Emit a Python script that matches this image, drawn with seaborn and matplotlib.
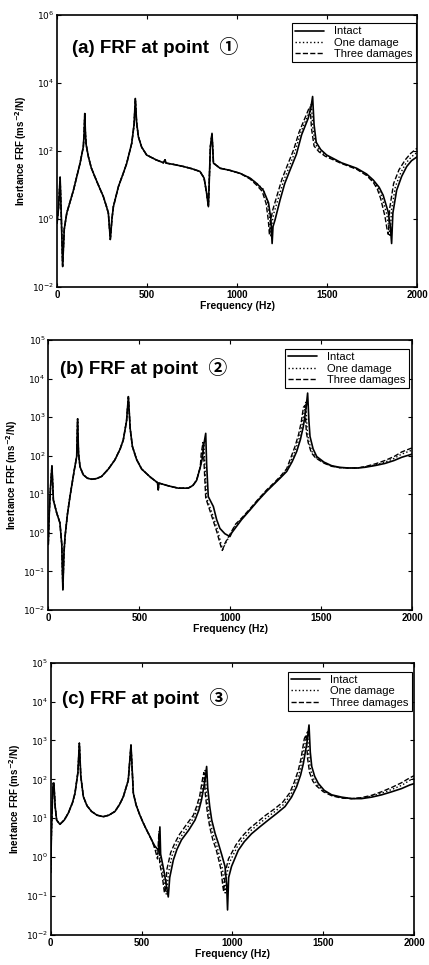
import numpy as np
import pandas as pd
import matplotlib
matplotlib.use("Agg")
import matplotlib.pyplot as plt
import seaborn as sns
from matplotlib.ticker import NullLocator

sns.set_style("ticks")
plt.rcParams['font.family'] = ['Liberation Sans', 'DejaVu Sans', 'Noto Sans CJK JP']
plt.rcParams['text.color'] = 'black'
plt.rcParams['axes.labelcolor'] = 'black'
plt.rcParams['xtick.color'] = 'black'
plt.rcParams['ytick.color'] = 'black'

# ---- panel (a): FRF at point 1 ----
freq_a_low = [0, 8, 17, 24, 31, 40, 54, 91, 128, 146, 150, 154, 158, 162, 174, 190, 211, 235, 257,
              275, 285, 296, 305, 313, 341, 365, 387, 415, 428, 435, 442, 452, 470, 498, 550, 591,
              600, 606, 650, 702, 750, 794, 817, 831, 841, 852, 861, 869, 906, 960, 1017]
frf_a_low = [0.75, 2.0, 17, 1.0, 0.04, 0.5, 1.5, 7, 44, 134, 300, 1260, 300, 150, 68, 32, 17, 8.5,
             4.6, 2.3, 1.5, 0.25, 1.0, 2.3, 9, 20, 43, 170, 600, 3500, 700, 260, 130, 76, 55, 45,
             55, 44, 40, 35, 30, 25, 16, 5.8, 2.3, 134, 330, 44, 31, 27, 22]
freq_a_intact = [1072, 1110, 1146, 1175, 1188, 1195, 1200, 1211, 1239, 1265, 1294, 1330, 1359, 1395,
                 1410, 1420, 1428, 1440, 1465, 1498, 1580, 1665, 1720, 1757, 1790, 1812, 1840, 1852,
                 1859, 1866, 1887, 1915, 1943, 1970, 2000]
frf_a_intact = [16, 11, 7, 3, 1, 0.19, 0.6, 0.93, 3.6, 11, 27, 80, 300, 900,
                1800, 4000, 600, 180, 110, 76, 45, 31, 21, 14, 8.5, 5, 1.6, 0.6,
                0.19, 1.5, 7, 18, 35, 52, 67]
freq_a_one = [1072, 1110, 1146, 1170, 1182, 1188, 1195, 1205, 1232, 1258, 1288, 1322, 1352, 1388,
              1405, 1413, 1421, 1435, 1460, 1495, 1580, 1665, 1720, 1757, 1785, 1805, 1832, 1845,
              1851, 1858, 1880, 1910, 1940, 1970, 2000]
frf_a_one = [16, 11, 7.5, 3, 1, 0.3, 0.8, 1.5, 4.5, 13, 32, 95, 330, 950,
             1500, 2500, 500, 160, 100, 72, 44, 30, 20, 13, 8, 4.5, 1.4, 0.5,
             0.3, 1.8, 9, 23, 45, 68, 90]
freq_a_three = [1072, 1108, 1140, 1162, 1174, 1180, 1187, 1198, 1225, 1250, 1280, 1315, 1345, 1380,
                1398, 1406, 1414, 1428, 1455, 1490, 1580, 1665, 1720, 1757, 1780, 1798, 1822, 1835,
                1841, 1848, 1870, 1900, 1935, 1965, 2000]
frf_a_three = [15, 10, 6.5, 2.8, 0.9, 0.35, 0.9, 1.8, 5.5, 15, 38, 110, 360, 1000,
               1700, 2000, 450, 140, 95, 70, 43, 29, 19, 12, 7.5, 4, 1.2, 0.45,
               0.35, 2, 11, 28, 55, 85, 120]

# ---- panel (b): FRF at point 2 ----
freq_b_low = [0, 5, 12, 20, 28, 46, 64, 74, 80, 86, 92, 105, 119, 143, 156, 161, 166, 174, 192, 215,
              238, 265, 293, 330, 366, 395, 412, 430, 440, 450, 462, 485, 513, 560, 600, 604, 608,
              660, 714, 769, 795, 815, 835]
frf_b_low = [0.5, 3, 15, 55, 7, 3.3, 1.8, 0.5, 0.033, 0.3, 0.8, 3, 8.7, 43, 95, 900, 120, 52, 32,
             26, 24.5, 25.5, 29, 45, 78, 150, 256, 800, 3400, 500, 174, 80, 45, 28, 20, 13, 19.5,
             16.5, 14.4, 14.4, 17, 23, 50]
freq_b_intact = [845, 855, 865, 870, 879, 907, 925, 943, 970, 998, 1008, 1062, 1110, 1154, 1200,
                 1246, 1280, 1310, 1340, 1365, 1385, 1401, 1415, 1425, 1432, 1438, 1455, 1475, 1515,
                 1557, 1600, 1648, 1700, 1740, 1800, 1850, 1900, 1942, 2000]
frf_b_intact = [80, 200, 380, 60, 8.7, 4.8, 2.2, 1.3, 0.95, 0.8, 1.0, 2.2, 4, 7, 12,
                19.5, 28, 39, 70, 129, 260, 560, 1500, 4200, 800, 316, 150, 95, 68,
                55, 50, 48, 48, 50, 56, 63, 75, 91, 110]
freq_b_one = [845, 855, 860, 870, 900, 930, 950, 958, 975, 1000, 1030, 1062, 1110, 1154, 1200,
              1246, 1280, 1310, 1337, 1360, 1380, 1395, 1408, 1415, 1422, 1430, 1448, 1470, 1515,
              1557, 1600, 1648, 1700, 1740, 1800, 1850, 1900, 1942, 2000]
frf_b_one = [120, 200, 60, 8, 3.2, 1.2, 0.5, 0.37, 0.55, 0.9, 1.6, 2.3, 4.1, 7.2, 12.5,
             20, 29, 42, 80, 150, 300, 650, 1500, 2500, 500, 250, 130, 90, 66,
             54, 49, 48, 48, 51, 58, 68, 85, 110, 140]
freq_b_three = [840, 850, 856, 865, 895, 925, 948, 956, 972, 1000, 1030, 1062, 1110, 1154, 1200,
                1246, 1280, 1310, 1333, 1355, 1375, 1390, 1402, 1410, 1418, 1428, 1445, 1468, 1515,
                1557, 1600, 1648, 1700, 1740, 1800, 1850, 1900, 1942, 2000]
frf_b_three = [110, 220, 60, 8, 3, 1.1, 0.45, 0.35, 0.55, 0.95, 1.7, 2.4, 4.3, 7.5, 13,
               21, 31, 46, 90, 170, 350, 750, 1800, 2000, 400, 220, 120, 88, 64,
               53, 49, 48, 48, 52, 62, 75, 95, 125, 160]

# ---- panel (c): FRF at point 3 ----
freq_c_low = [0, 5, 10, 14, 18, 25, 33, 51, 75, 97, 120, 134, 150, 158, 166, 180, 200, 225, 255, 290,
              320, 354, 380, 400, 427, 442, 448, 455, 470, 491, 510, 528, 545, 560]
frf_c_low = [0.4, 5, 30, 79, 80, 20, 9, 7, 9, 13.5, 25, 44, 150, 850, 120, 36, 21, 15, 12, 11,
             12, 15, 23, 36, 95, 760, 200, 44, 22, 12, 7.5, 5, 3.5, 2.5]
freq_c_intact = [574, 595, 601, 605, 625, 640, 647, 655, 675, 695, 720, 760, 794, 815, 830, 850, 858,
                 864, 875, 886, 905, 922, 940, 959, 968, 973, 979, 995, 1032, 1065, 1105, 1150, 1197,
                 1245, 1289, 1325, 1353, 1375, 1390, 1410, 1421, 1428, 1436, 1452, 1472, 1505, 1546,
                 1600, 1656, 1710, 1766, 1820, 1876, 1930, 1976, 2000]
frf_c_intact = [1.9, 1.5, 6, 1.2, 0.4, 0.15, 0.095, 0.3, 0.85, 1.6, 2.8, 5, 9, 16, 30, 100, 215,
                60, 20, 9, 4, 2.3, 1.2, 0.58, 0.2, 0.044, 0.3, 0.58, 1.5, 2.5, 4, 6, 9,
                13.5, 20, 35, 65, 130, 256, 900, 2500, 500, 215, 120, 79, 52, 40,
                35, 32, 32, 35, 40, 48, 58, 72, 78]
freq_c_one = [574, 590, 598, 603, 620, 632, 638, 648, 668, 690, 715, 755, 790, 810, 826, 845, 850,
              856, 868, 880, 898, 915, 932, 945, 955, 960, 968, 985, 1025, 1060, 1100, 1145, 1190,
              1238, 1283, 1320, 1347, 1368, 1383, 1402, 1413, 1420, 1430, 1448, 1468, 1503, 1546,
              1600, 1656, 1710, 1766, 1820, 1876, 1930, 1976, 2000]
frf_c_one = [1.7, 1.1, 5, 0.9, 0.35, 0.12, 0.11, 0.4, 1.1, 2, 3.3, 6, 11, 19, 35, 110, 170,
             50, 16, 7, 3.3, 1.9, 0.9, 0.5, 0.2, 0.12, 0.35, 0.75, 1.8, 3, 4.8, 7.2, 10.5,
             15.5, 23, 40, 75, 150, 300, 1000, 1800, 400, 170, 100, 72, 50, 39,
             34, 32, 33, 37, 44, 55, 70, 95, 105]
freq_c_three = [574, 588, 595, 600, 615, 625, 629, 640, 660, 683, 708, 748, 785, 804, 820, 838, 843,
                850, 862, 875, 892, 910, 926, 938, 947, 952, 960, 978, 1020, 1055, 1095, 1140, 1183,
                1232, 1277, 1315, 1340, 1362, 1377, 1395, 1405, 1413, 1424, 1442, 1462, 1500, 1546,
                1600, 1656, 1710, 1766, 1820, 1876, 1930, 1976, 2000]
frf_c_three = [1.6, 0.9, 4, 0.7, 0.3, 0.13, 0.12, 0.5, 1.3, 2.3, 3.8, 7, 12, 21, 38, 120, 150,
               45, 14, 6, 2.8, 1.6, 0.8, 0.45, 0.18, 0.13, 0.4, 0.9, 2.1, 3.5, 5.5, 8.2, 12,
               17.5, 26, 45, 85, 170, 340, 1100, 1400, 350, 150, 90, 68, 48, 38,
               33, 32, 34, 39, 48, 62, 82, 110, 125]

cases = ["Intact", "One damage", "Three damages"]
styles = {"Intact": "-", "One damage": ":", "Three damages": "--"}
widths = {"Intact": 1.2, "One damage": 1.0, "Three damages": 1.0}

panels = [
    dict(title="(a) FRF at point  \u2460", low=(freq_a_low, frf_a_low),
         high=[(freq_a_intact, frf_a_intact), (freq_a_one, frf_a_one), (freq_a_three, frf_a_three)],
         ylim=(1e-2, 1e6), yexp=[-2, 0, 2, 4, 6],
         pos=[0.133, 0.7026, 0.839, 0.2819], txt=(0.042, 0.882), leg=(0.996, 0.97)),
    dict(title="(b) FRF at point  \u2461", low=(freq_b_low, frf_b_low),
         high=[(freq_b_intact, frf_b_intact), (freq_b_one, frf_b_one), (freq_b_three, frf_b_three)],
         ylim=(1e-2, 1e5), yexp=[-2, -1, 0, 1, 2, 3, 4, 5],
         pos=[0.1126, 0.3679, 0.8484, 0.2798], txt=(0.032, 0.895), leg=(0.99, 0.967)),
    dict(title="(c) FRF at point  \u2462", low=(freq_c_low, frf_c_low),
         high=[(freq_c_intact, frf_c_intact), (freq_c_one, frf_c_one), (freq_c_three, frf_c_three)],
         ylim=(1e-2, 1e5), yexp=[-2, -1, 0, 1, 2, 3, 4, 5],
         pos=[0.118, 0.0311, 0.8477, 0.2822], txt=(0.030, 0.869), leg=(0.993, 0.967)),
]

fig = plt.figure(figsize=(4.29, 9.65), dpi=100)

for p in panels:
    ax = fig.add_axes(p["pos"])
    ax.set_yscale("log")
    rows = []
    for case, (fh, vh) in zip(cases, p["high"]):
        f = list(p["low"][0]) + list(fh)
        v = list(p["low"][1]) + list(vh)
        rows.append(pd.DataFrame({"freq": f, "frf": v, "case": case}))
    df = pd.concat(rows, ignore_index=True)
    for case in cases[::-1]:
        sub = df[df["case"] == case]
        sns.lineplot(data=sub, x="freq", y="frf", ax=ax, color="black", estimator=None,
                     sort=False, linestyle=styles[case], linewidth=widths[case], label=case)
    ax.set_xlim(0, 2000)
    ax.set_ylim(*p["ylim"])
    ax.set_xticks([0, 500, 1000, 1500, 2000])
    ax.set_xticklabels(["0", "500", "1000", "1500", "2000"], fontsize=7, fontweight="bold")
    ax.set_yticks([10.0 ** e for e in p["yexp"]])
    ax.set_yticklabels([r"$10^{%d}$" % e for e in p["yexp"]], fontsize=6.5)
    ax.yaxis.set_minor_locator(NullLocator())
    ax.tick_params(direction="in", top=True, right=True, length=3, width=0.8, pad=2)
    for s in ax.spines.values():
        s.set_linewidth(1.2)
        s.set_color("black")
    ax.set_xlabel("Frequency (Hz)", fontsize=7.5, fontweight="bold", labelpad=1)
    ax.set_ylabel(r"Inertance FRF (ms$^{\mathbf{-2}}$/N)", fontsize=7, fontweight="bold", labelpad=2)
    ax.text(p["txt"][0], p["txt"][1], p["title"], transform=ax.transAxes, fontsize=13.5,
            fontweight="bold", va="center", ha="left", color="black",
            family=["Liberation Sans", "Noto Sans CJK JP", "DejaVu Sans"])
    handles, labels = ax.get_legend_handles_labels()
    order = [labels.index(c) for c in cases]
    leg = ax.legend([handles[i] for i in order], [labels[i] for i in order], loc="upper right",
                    bbox_to_anchor=p["leg"], fontsize=8, frameon=True, fancybox=False,
                    framealpha=1, edgecolor="black", borderpad=0.3, labelspacing=0.12,
                    handlelength=2.6, handletextpad=0.9, borderaxespad=0.0)
    leg.get_frame().set_linewidth(0.8)

fig.savefig("out.png", dpi=100)
